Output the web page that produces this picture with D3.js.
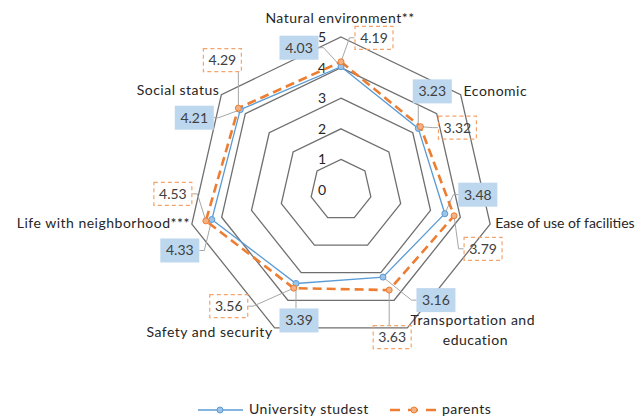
<!DOCTYPE html>
<html>
<head>
<meta charset="utf-8">
<script src="https://cdn.jsdelivr.net/npm/d3@7"></script>
<style>
  body { margin: 0; background: #fff; }
  svg text { font-family: Lato, "Open Sans", "Liberation Sans", sans-serif; fill: #262626; }
  svg text.cat, svg text.leg { letter-spacing: 0.5px; }
  svg text.cat.tight { letter-spacing: 0; }
</style>
</head>
<body>
<svg id="chart" width="641" height="418"></svg>
<script>
// categories, clockwise from the top
var categories = ['Natural environment**', 'Economic', 'Ease of use of facilities',
    'Transportation and education', 'Safety and security', 'Life with neighborhood***', 'Social status'];
var students = [4.03, 3.23, 3.48, 3.16, 3.39, 4.33, 4.21];
var parents = [4.19, 3.32, 3.79, 3.63, 3.56, 4.53, 4.29];
var ticks = [0, 1, 2, 3, 4, 5];
var seriesNames = ['University studest', 'parents'];

// label box offsets from the point (layout only)
var studentLabelOffset = [[-42, -19], [14, -37], [33, -19], [53, 23], [3, 37], [-32, 31], [-46, 8]];
var parentLabelOffset = [[33, -24], [37, 1], [29, 33], [3, 47], [-65, 18], [-33, -27], [-16, -48]];

var svg = d3.select('#chart');
var cx = 341, cy = 190;
var r = d3.scaleLinear().domain([0, 5]).range([0, 153]);
var angle = d3.scaleLinear().domain([0, categories.length]).range([-Math.PI / 2, 1.5 * Math.PI]);

function pt(i, v) {
    var a = angle(i);
    return [cx + r(v) * Math.cos(a), cy + r(v) * Math.sin(a)];
}

// rings
ticks.filter(function(t) { return t > 0; }).forEach(function(t) {
    svg.append('path')
        .attr('d', d3.line()(categories.map(function(c, i) { return pt(i, t); })) + 'Z')
        .attr('fill', 'none')
        .attr('stroke', '#6f6f6f')
        .attr('stroke-width', 1.3);
});

// tick labels
svg.selectAll('.tick').data(ticks).enter().append('text')
    .attr('x', cx - 19)
    .attr('y', function(t) { return cy - r(t) + 5; })
    .attr('text-anchor', 'middle')
    .style('font-size', '14px')
    .text(function(t) { return t; });

// category labels
var catPos = [
    { i: 0, dx: -1, dy: -14, anchor: 'middle' },
    { i: 1, dx: 3, dy: 1, anchor: 'start' },
    { i: 2, dx: 5, dy: 4, anchor: 'start' },
    { i: 3, dx: 3, dy: -3, anchor: 'start' },
    { i: 4, dx: -2, dy: 9, anchor: 'end' },
    { i: 5, dx: -2, dy: 4, anchor: 'end' },
    { i: 6, dx: -2, dy: 0, anchor: 'end' }
];
catPos.forEach(function(c) {
    var p = pt(c.i, 5);
    var t = svg.append('text')
        .attr('class', c.i == 2 ? 'cat tight' : 'cat')
        .attr('x', p[0] + c.dx)
        .attr('y', p[1] + c.dy)
        .attr('text-anchor', c.anchor)
        .style('font-size', '14px');
    if (c.i == 3) {
        t.append('tspan').text('Transportation and');
        t.append('tspan').attr('x', p[0] + c.dx + 65).attr('dy', 20)
            .attr('text-anchor', 'middle').text('education');
    } else {
        t.text(categories[c.i]);
    }
});

// leader lines + label boxes
var bw = 39, bh = 24;
function boxes(values, offsets, cls) {
    values.forEach(function(v, i) {
        var p = pt(i, v);
        var bx = p[0] + offsets[i][0], by = p[1] + offsets[i][1];
        var x0 = bx - bw / 2, x1 = bx + bw / 2, y0 = by - bh / 2, y1 = by + bh / 2;
        var end, stub;
        if (p[0] < x0) { end = [x0, by]; stub = [x0 - 5, by]; }
        else if (p[0] > x1) { end = [x1, by]; stub = [x1 + 5, by]; }
        else if (p[1] < y0) { end = [p[0], y0]; stub = end; }
        else { end = [p[0], y1]; stub = end; }
        svg.select('.leaders').append('path')
            .attr('d', d3.line()([p, stub, end]))
            .attr('fill', 'none')
            .attr('stroke', '#a6a6a6')
            .attr('stroke-width', 1);
        var g = svg.select('.labels').append('g');
        if (cls == 'student') {
            g.append('rect').attr('x', x0).attr('y', y0).attr('width', bw).attr('height', bh)
                .attr('fill', '#bdd7ee');
        } else {
            g.append('rect').attr('x', x0 + 0.5).attr('y', y0 + 0.5).attr('width', bw - 1).attr('height', bh - 1)
                .attr('fill', 'none').attr('stroke', '#f4a46a').attr('stroke-width', 1.2)
                .attr('stroke-dasharray', '4,3');
        }
        g.append('text').attr('x', bx).attr('y', by + 5)
            .attr('text-anchor', 'middle')
            .style('font-size', '14px')
            .style('fill', '#404040')
            .text(v.toFixed(2));
    });
}

svg.append('g').attr('class', 'leaders');

// series lines
var line = d3.line();
svg.append('path')
    .attr('d', line(students.map(function(v, i) { return pt(i, v); })) + 'Z')
    .attr('fill', 'none').attr('stroke', '#5b9bd5').attr('stroke-width', 1.3);
svg.append('path')
    .attr('d', line(parents.map(function(v, i) { return pt(i, v); })) + 'Z')
    .attr('fill', 'none').attr('stroke', '#ed7d31').attr('stroke-width', 2.6)
    .attr('stroke-dasharray', '9,5');

svg.selectAll('.sm').data(students).enter().append('circle')
    .attr('cx', function(v, i) { return pt(i, v)[0]; })
    .attr('cy', function(v, i) { return pt(i, v)[1]; })
    .attr('r', 3).attr('fill', '#9dc3e6').attr('stroke', '#5b9bd5').attr('stroke-width', 1);
svg.selectAll('.pm').data(parents).enter().append('circle')
    .attr('cx', function(v, i) { return pt(i, v)[0]; })
    .attr('cy', function(v, i) { return pt(i, v)[1]; })
    .attr('r', 3).attr('fill', '#f4b183').attr('stroke', '#ed7d31').attr('stroke-width', 1);

svg.append('g').attr('class', 'labels');
boxes(students, studentLabelOffset, 'student');
boxes(parents, parentLabelOffset, 'parent');

// legend
var lg = svg.append('g');
lg.append('line').attr('x1', 198).attr('x2', 243).attr('y1', 410).attr('y2', 410)
    .attr('stroke', '#5b9bd5').attr('stroke-width', 1.3);
lg.append('circle').attr('cx', 220).attr('cy', 410).attr('r', 3)
    .attr('fill', '#9dc3e6').attr('stroke', '#5b9bd5');
lg.append('text').attr('class', 'leg').attr('x', 249).attr('y', 414).style('font-size', '14px').text(seriesNames[0]);
lg.append('line').attr('x1', 390).attr('x2', 437).attr('y1', 410).attr('y2', 410)
    .attr('stroke', '#ed7d31').attr('stroke-width', 2.6).attr('stroke-dasharray', '10,8');
lg.append('circle').attr('cx', 414).attr('cy', 410).attr('r', 3)
    .attr('fill', '#f4b183').attr('stroke', '#ed7d31');
lg.append('text').attr('class', 'leg').attr('x', 442).attr('y', 414).style('font-size', '14px').text(seriesNames[1]);
</script>
</body>
</html>
